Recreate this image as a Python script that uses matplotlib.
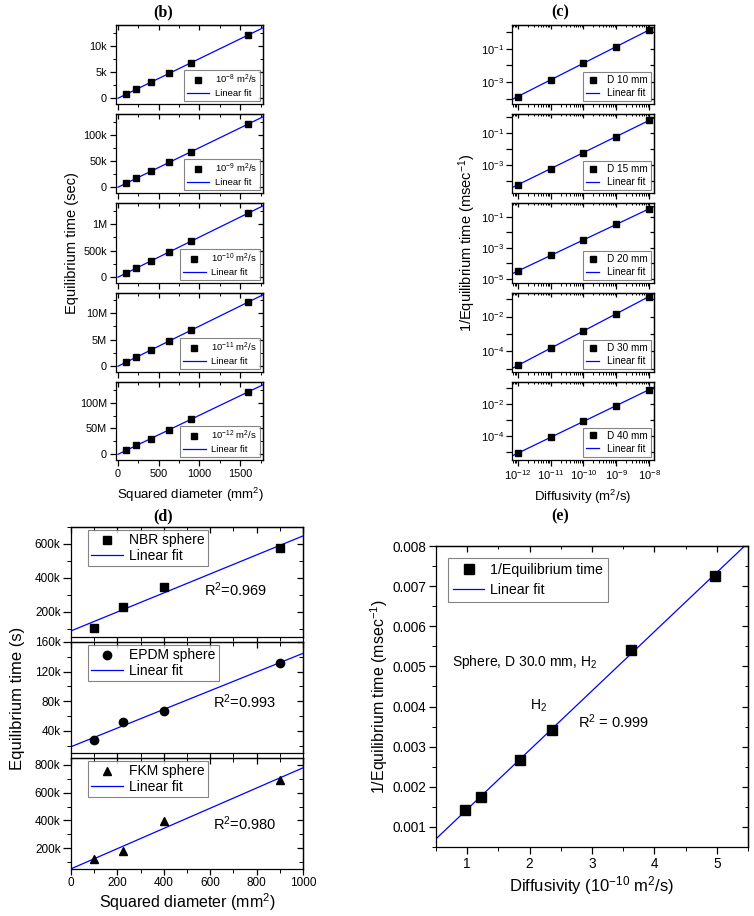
import numpy as np
import matplotlib
matplotlib.use('Agg')
import matplotlib.pyplot as plt
from matplotlib.ticker import MultipleLocator, FuncFormatter, LogLocator, NullFormatter, FixedLocator

plt.rcParams['font.family'] = ['Liberation Sans', 'DejaVu Sans']
plt.rcParams['mathtext.fontset'] = 'custom'
plt.rcParams['mathtext.rm'] = 'Liberation Sans'
plt.rcParams['mathtext.it'] = 'Liberation Sans:italic'
plt.rcParams['mathtext.bf'] = 'Liberation Sans:bold'
plt.rcParams['axes.linewidth'] = 0.9
plt.rcParams['xtick.major.width'] = 0.9
plt.rcParams['ytick.major.width'] = 0.9
plt.rcParams['xtick.minor.width'] = 0.7
plt.rcParams['ytick.minor.width'] = 0.7

# ---- data (b): equilibrium time vs squared diameter ----
squared_diam = [100, 225, 400, 625, 900, 1600]
time_1e8 = [750, 1700, 3000, 4720, 6800, 12100]
time_1e9 = [7500, 17000, 30000, 47200, 68000, 121000]
time_1e10 = [75000, 170000, 300000, 472000, 680000, 1210000]
time_1e11 = [750000, 1700000, 3000000, 4720000, 6800000, 12100000]
time_1e12 = [7500000, 17000000, 30000000, 47200000, 68000000, 121000000]
b_series = [time_1e8, time_1e9, time_1e10, time_1e11, time_1e12]
b_labels = ['10$^{-8}$ m$^2$/s', '10$^{-9}$ m$^2$/s', '10$^{-10}$ m$^2$/s',
            '10$^{-11}$ m$^2$/s', '10$^{-12}$ m$^2$/s']
b_ytop = [14000, 140000, 1400000, 13800000, 140000000]
b_ystep = [5000, 50000, 500000, 5000000, 50000000]

# ---- data (c): 1/equilibrium time vs diffusivity ----
diffusivity = [1e-12, 1e-11, 1e-10, 1e-9, 1e-8]
inv_d10 = [1.4e-4, 1.4e-3, 1.35e-2, 0.135, 1.3]
inv_d15 = [5.9e-5, 5.9e-4, 5.9e-3, 0.059, 0.6]
inv_d20 = [3.3e-5, 3.3e-4, 3.3e-3, 0.033, 0.34]
inv_d30 = [1.5e-5, 1.5e-4, 1.5e-3, 0.015, 0.14]
inv_d40 = [8.6e-6, 8.4e-5, 8.2e-4, 8.0e-3, 0.08]
c_series = [inv_d10, inv_d15, inv_d20, inv_d30, inv_d40]
c_labels = ['D 10 mm', 'D 15 mm', 'D 20 mm', 'D 30 mm', 'D 40 mm']
c_ylims = [(5e-5, 2.6), (1.8e-5, 1.5), (5.5e-6, 0.8), (6.3e-6, 0.23), (3.2e-6, 0.24)]
c_labeled = [[-1, -3], [-1, -3], [-1, -3, -5], [-2, -4], [-2, -4]]

# ---- data (d): spheres of different rubbers ----
d_diam_sq = [100, 225, 400, 900]
nbr_time = [106000, 228000, 347000, 575000]
epdm_time = [28000, 52000, 67000, 132000]
fkm_time = [122000, 180000, 393000, 693000]
d_r2 = ['R$^2$=0.969', 'R$^2$=0.993', 'R$^2$=0.980']

# ---- data (e): H2 sphere D 30 mm ----
h2_diff = [0.97, 1.22, 1.85, 2.36, 3.63, 4.97]
h2_inv_time = [0.00142, 0.00175, 0.00267, 0.00342, 0.00540, 0.00726]

W, H = 754, 916
fig = plt.figure(figsize=(W / 100, H / 100), dpi=100)


def add_ax(x0, y0, x1, y1):
    return fig.add_axes([x0 / W, 1 - y1 / H, (x1 - x0) / W, (y1 - y0) / H])


def kfmt(v, pos):
    if abs(v) < 1e-9:
        return '0'
    if abs(v) >= 1e6:
        return f'{v / 1e6:g}M'
    return f'{v / 1e3:g}k'


def style_legend(leg):
    fr = leg.get_frame()
    fr.set_edgecolor('#666666')
    fr.set_linewidth(0.8)
    fr.set_boxstyle('square', pad=0)


def origin_ticks(ax, xloc, yloc, big, small, labelsize, pad=2):
    # left/bottom ticks point out, top/right ticks point in (Origin style)
    ax.xaxis.set_major_locator(xloc[0]())
    ax.xaxis.set_minor_locator(xloc[1]())
    ax.yaxis.set_major_locator(yloc[0]())
    ax.yaxis.set_minor_locator(yloc[1]())
    ax.tick_params(which='major', direction='out', length=big, labelsize=labelsize, pad=pad)
    ax.tick_params(which='minor', direction='out', length=small)
    sx = ax.secondary_xaxis('top')
    sy = ax.secondary_yaxis('right')
    sx.xaxis.set_major_locator(xloc[0]())
    sx.xaxis.set_minor_locator(xloc[1]())
    sy.yaxis.set_major_locator(yloc[0]())
    sy.yaxis.set_minor_locator(yloc[1]())
    sx.tick_params(which='major', direction='in', length=big * 0.8, labeltop=False)
    sx.tick_params(which='minor', direction='in', length=small * 0.8)
    sy.tick_params(which='major', direction='in', length=big * 0.8, labelright=False)
    sy.tick_params(which='minor', direction='in', length=small * 0.8)
    for s in (sx, sy):
        for sp in s.spines.values():
            sp.set_linewidth(0.9)
    sx.xaxis.set_minor_formatter(NullFormatter())
    sy.yaxis.set_minor_formatter(NullFormatter())


blue = '#0000ff'

# ================= panel (b) =================
b_rows = [(25, 104), (114, 193), (203, 283), (293, 372), (382, 460)]
for i, (y0, y1) in enumerate(b_rows):
    ax = add_ax(116, y0, 263, y1)
    ys = b_series[i]
    ax.plot(squared_diam, ys, 's', color='black', ms=5, label=b_labels[i], zorder=3)
    p = np.polyfit(squared_diam, ys, 1)
    xf = np.array([0, 1800])
    ax.plot(xf, np.polyval(p, xf), color=blue, lw=0.9, label='Linear fit', zorder=2)
    ax.set_xlim(-25, 1780)
    ax.set_ylim(-0.08 * b_ytop[i], b_ytop[i])
    st = b_ystep[i]
    origin_ticks(ax,
                 (lambda: MultipleLocator(500), lambda: MultipleLocator(250)),
                 (lambda st=st: MultipleLocator(st), lambda st=st: MultipleLocator(st / 2)),
                 4.5, 2.5, 7.8)
    ax.yaxis.set_major_formatter(FuncFormatter(kfmt))
    if i < 4:
        ax.tick_params(labelbottom=False)
    leg = ax.legend(loc='lower right', fontsize=6.8, handlelength=2.4,
                    borderaxespad=0.3, numpoints=1, fancybox=False,
                    labelspacing=0.3, borderpad=0.3, handletextpad=0.6)
    style_legend(leg)

fig.text(72 / W, 1 - 243 / H, 'Equilibrium time (sec)', rotation=90,
         ha='center', va='center', fontsize=10.5)
fig.text(190 / W, 1 - 495 / H, 'Squared diameter (mm$^2$)',
         ha='center', va='center', fontsize=9.5)

# ================= panel (c) =================
for i, (y0, y1) in enumerate(b_rows):
    ax = add_ax(512, y0, 654, y1)
    ys = c_series[i]
    ax.set_xscale('log')
    ax.set_yscale('log')
    ax.plot(diffusivity, ys, 's', color='black', ms=5, label=c_labels[i], zorder=3)
    p = np.polyfit(np.log10(diffusivity), np.log10(ys), 1)
    xf = np.array([-12.3, -7.7])
    ax.plot(10 ** xf, 10 ** np.polyval(p, xf), color=blue, lw=0.9, label='Linear fit', zorder=2)
    ax.set_xlim(10 ** -12.18, 10 ** -7.85)
    ax.set_ylim(*c_ylims[i])
    lo = int(np.floor(np.log10(c_ylims[i][0])))
    hi = int(np.ceil(np.log10(c_ylims[i][1])))
    decs = [10.0 ** d for d in range(lo, hi + 1)]
    origin_ticks(ax,
                 (lambda: LogLocator(base=10, numticks=10),
                  lambda: LogLocator(base=10, subs=np.arange(2, 10), numticks=10)),
                 (lambda decs=decs: FixedLocator(decs), lambda: FixedLocator([])),
                 4, 2.2, 8)
    lab = c_labeled[i]
    ax.yaxis.set_major_formatter(FuncFormatter(
        lambda v, pos, lab=lab: ('$10^{%d}$' % round(np.log10(v))) if round(np.log10(v)) in lab else ''))
    ax.xaxis.set_minor_formatter(NullFormatter())
    if i < 4:
        ax.tick_params(labelbottom=False)
    leg = ax.legend(loc='lower right', fontsize=7.2, handlelength=1.3,
                    borderaxespad=0.3, numpoints=1, fancybox=False,
                    labelspacing=0.3, borderpad=0.3, handletextpad=0.8)
    style_legend(leg)

fig.text(467 / W, 1 - 243 / H, '1/Equilibrium time (msec$^{-1}$)', rotation=90,
         ha='center', va='center', fontsize=10.5)
fig.text(583 / W, 1 - 497 / H, 'Diffusivity (m$^2$/s)',
         ha='center', va='center', fontsize=9.5)

# ================= panel (d) =================
d_rows = [(527, 637), (642, 753), (758, 869)]
d_sets = [(nbr_time, 's', 'NBR sphere', (50000, 700000), 200000, 100000),
          (epdm_time, 'o', 'EPDM sphere', (10000, 160000), 40000, 20000),
          (fkm_time, '^', 'FKM sphere', (50000, 850000), 200000, 100000)]
r2_pos = [(0.573, 0.43), (0.61, 0.46), (0.61, 0.41)]
for i, (y0, y1) in enumerate(d_rows):
    ax = add_ax(71, y0, 303, y1)
    ys, mk, lbl, ylim, maj, mnr = d_sets[i]
    ax.plot(d_diam_sq, ys, mk, color='black', ms=6, label=lbl, zorder=3)
    p = np.polyfit(d_diam_sq, ys, 1)
    xf = np.array([0, 1000])
    ax.plot(xf, np.polyval(p, xf), color=blue, lw=0.9, label='Linear fit', zorder=2)
    ax.set_xlim(0, 1000)
    ax.set_ylim(*ylim)
    origin_ticks(ax,
                 (lambda: MultipleLocator(200), lambda: MultipleLocator(100)),
                 (lambda maj=maj: MultipleLocator(maj), lambda mnr=mnr: MultipleLocator(mnr)),
                 5.5, 3.2, 8.5)
    ax.tick_params(axis='x', which='major', length=4.5, pad=1)
    ax.yaxis.set_major_formatter(FuncFormatter(kfmt))
    if i < 2:
        ax.tick_params(labelbottom=False)
    top_frac = (y1 - y0 - 3) / (y1 - y0)
    leg = ax.legend(loc='upper left', bbox_to_anchor=(17 / 232, top_frac),
                    fontsize=10, handlelength=2.3, borderaxespad=0.0,
                    numpoints=1, fancybox=False, labelspacing=0.1,
                    borderpad=0.25, handletextpad=0.4)
    style_legend(leg)
    ax.text(r2_pos[i][0], r2_pos[i][1], d_r2[i], transform=ax.transAxes,
            fontsize=10.5, va='center', ha='left')

fig.text(18 / W, 1 - 698 / H, 'Equilibrium time (s)', rotation=90,
         ha='center', va='center', fontsize=12)
fig.text(187 / W, 1 - 902 / H, 'Squared diameter (mm$^2$)',
         ha='center', va='center', fontsize=11.5)

# ================= panel (e) =================
ax = add_ax(436, 546, 748, 847)
ax.plot(h2_diff, h2_inv_time, 's', color='black', ms=7.5, label='1/Equilibrium time', zorder=3)
p = np.polyfit(h2_diff, h2_inv_time, 1)
xf = np.array([0.5, 5.6])
ax.plot(xf, np.polyval(p, xf), color=blue, lw=0.9, label='Linear fit', zorder=2)
ax.set_xlim(0.5, 5.5)
ax.set_ylim(0.0005, 0.008)
origin_ticks(ax,
             (lambda: MultipleLocator(1), lambda: MultipleLocator(0.5)),
             (lambda: MultipleLocator(0.001), lambda: MultipleLocator(0.0005)),
             5, 3, 9.8, pad=2)
ax.yaxis.set_major_formatter(FuncFormatter(lambda v, pos: f'{v:.3f}'))
leg = ax.legend(loc='upper left', bbox_to_anchor=(12 / 312, 1 - 12 / 301),
                fontsize=10.2, handlelength=2.2, borderaxespad=0.0,
                numpoints=1, fancybox=False, labelspacing=0.45,
                borderpad=0.35, handletextpad=0.4)
style_legend(leg)
ax.text(0.05, 0.615, 'Sphere, D 30.0 mm, H$_2$', transform=ax.transAxes,
        fontsize=10, va='center', ha='left')
ax.text(0.327, 0.47, 'H$_2$', transform=ax.transAxes,
        fontsize=10, va='center', ha='center')
ax.text(0.455, 0.415, 'R$^2$ = 0.999', transform=ax.transAxes,
        fontsize=10.5, va='center', ha='left')

fig.text(379 / W, 1 - 697 / H, '1/Equilibrium time (msec$^{-1}$)', rotation=90,
         ha='center', va='center', fontsize=11.5)
fig.text(592 / W, 1 - 886 / H, 'Diffusivity (10$^{-10}$ m$^2$/s)',
         ha='center', va='center', fontsize=12)

# panel letters
for lbl, x, y in [('(b)', 163, 12), ('(c)', 560, 12), ('(d)', 163, 516), ('(e)', 560, 516)]:
    fig.text(x / W, 1 - y / H, lbl, ha='center', va='center', fontsize=11.5,
             family='Liberation Serif', weight='bold')

fig.savefig('out.png', dpi=100)
